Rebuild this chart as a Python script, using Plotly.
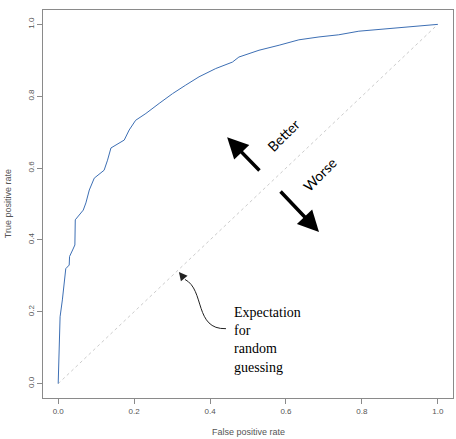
import plotly.graph_objects as go

# ROC curve
fpr = [0.0, 0.002, 0.003, 0.005, 0.011, 0.016, 0.020, 0.029, 0.030, 0.038, 0.044, 0.045,
       0.060, 0.066, 0.073, 0.082, 0.095, 0.121, 0.130, 0.139, 0.174, 0.187, 0.204, 0.231,
       0.266, 0.301, 0.336, 0.371, 0.415, 0.459, 0.476, 0.529, 0.582, 0.634, 0.687, 0.739,
       0.792, 0.845, 0.897, 0.950, 1.0]
tpr = [0.0, 0.100, 0.164, 0.186, 0.233, 0.294, 0.320, 0.330, 0.354, 0.372, 0.386, 0.456,
       0.475, 0.483, 0.503, 0.539, 0.572, 0.594, 0.622, 0.656, 0.678, 0.706, 0.733, 0.752,
       0.780, 0.807, 0.831, 0.854, 0.877, 0.895, 0.909, 0.928, 0.942, 0.957, 0.965, 0.971,
       0.981, 0.986, 0.992, 0.997, 1.0]

diag = [0.0, 1.0]
tick_vals = [0.0, 0.2, 0.4, 0.6, 0.8, 1.0]
tick_text = ["0.0", "0.2", "0.4", "0.6", "0.8", "1.0"]

fig = go.Figure()
fig.add_trace(go.Scatter(x=diag, y=diag, mode="lines",
                         line=dict(color="#cccccc", width=1, dash="dot"),
                         hoverinfo="skip", showlegend=False))
fig.add_trace(go.Scatter(x=fpr, y=tpr, mode="lines",
                         line=dict(color="#3d6fb4", width=1),
                         showlegend=False))

axis_common = dict(range=[-0.04, 1.04], showgrid=False, zeroline=False,
                   showline=True, linecolor="#8a8a8a", linewidth=1, mirror=True,
                   ticks="outside", ticklen=5, tickcolor="#8a8a8a",
                   tickvals=tick_vals, ticktext=tick_text,
                   tickfont=dict(family="Liberation Sans", size=8, color="#555555"))

fig.update_xaxes(**axis_common)
fig.update_yaxes(**axis_common, tickangle=-90)

ann = []
# Better / Worse arrows
ann.append(dict(x=0.445, y=0.686, ax=0.534, ay=0.589, xref="x", yref="y", axref="x", ayref="y",
                showarrow=True, arrowhead=2, arrowsize=1.2, arrowwidth=3.5, arrowcolor="black", text=""))
ann.append(dict(x=0.687, y=0.422, ax=0.582, ay=0.539, xref="x", yref="y", axref="x", ayref="y",
                showarrow=True, arrowhead=2, arrowsize=1.2, arrowwidth=3.5, arrowcolor="black", text=""))
ann.append(dict(x=0.592, y=0.692, xref="x", yref="y", text="Better", showarrow=False,
                textangle=-45, font=dict(family="Lato", size=14, color="black")))
ann.append(dict(x=0.689, y=0.581, xref="x", yref="y", text="Worse", showarrow=False,
                textangle=-45, font=dict(family="Lato", size=14, color="black")))
# Expectation text
ann.append(dict(x=0.458, y=0.225, xref="x", yref="y", xanchor="left", yanchor="top", align="left",
                text="Expectation<br>for<br>random<br>guessing", showarrow=False,
                font=dict(family="Liberation Serif", size=14, color="black")))
# curved arrow head
ann.append(dict(x=0.318, y=0.311, ax=0.334, ay=0.290, xref="x", yref="y", axref="x", ayref="y",
                showarrow=True, arrowhead=2, arrowsize=1.7, arrowwidth=1, arrowcolor="#222222", text=""))
# axis titles
ann.append(dict(x=0.5, y=-0.088, xref="paper", yref="paper", yanchor="middle",
                text="False positive rate", showarrow=False,
                font=dict(family="Liberation Sans", size=9, color="#555555")))
ann.append(dict(x=-0.085, y=0.5, xref="paper", yref="paper", xanchor="center",
                text="True positive rate", showarrow=False, textangle=-90,
                font=dict(family="Liberation Sans", size=9, color="#555555")))

fig.update_layout(
    width=456, height=439,
    margin=dict(l=43, r=3, t=10, b=41),
    paper_bgcolor="white", plot_bgcolor="white",
    annotations=ann,
    shapes=[dict(type="path", xref="x", yref="y",
                 path="M 0.442 0.153 C 0.358 0.150, 0.387 0.261, 0.334 0.290",
                 line=dict(color="#222222", width=1))],
)

fig.write_html("out.html")
